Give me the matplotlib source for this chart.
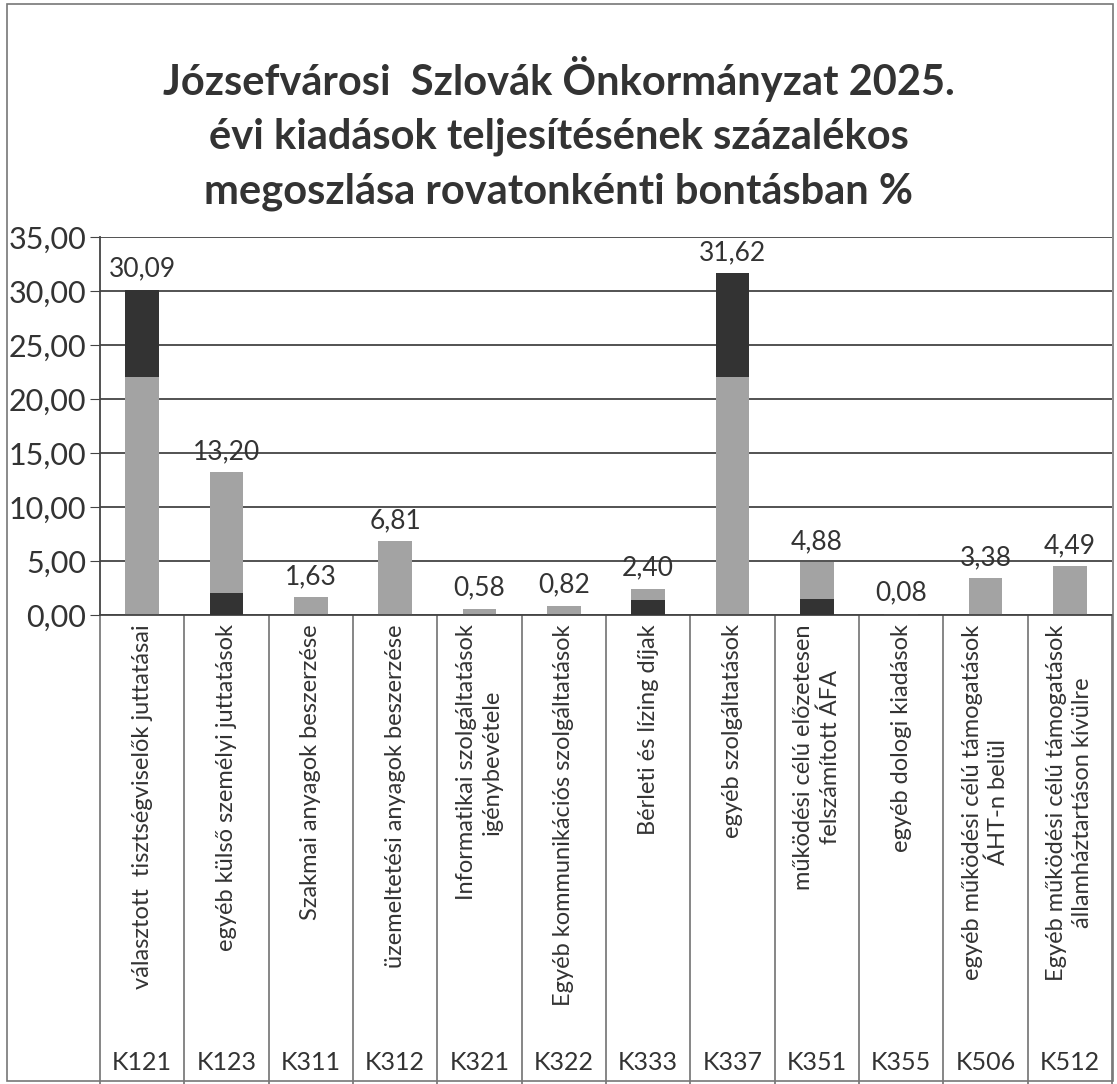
import matplotlib
matplotlib.use("Agg")
import matplotlib.pyplot as plt
from matplotlib.patches import Rectangle
from matplotlib.transforms import blended_transform_factory

codes = ["K121", "K123", "K311", "K312", "K321", "K322",
         "K333", "K337", "K351", "K355", "K506", "K512"]
labels = ["választott  tisztségviselők juttatásai",
          "egyéb külső személyi juttatások",
          "Szakmai anyagok beszerzése",
          "üzemeltetési anyagok beszerzése",
          "Informatikai szolgáltatások\nigénybevétele",
          "Egyéb kommunikációs szolgáltatások",
          "Bérleti és lízing díjak",
          "egyéb szolgáltatások",
          "működési célú előzetesen\nfelszámított ÁFA",
          "egyéb dologi kiadások",
          "egyéb működési célú támogatások\nÁHT-n belül",
          "Egyéb működési célú támogatások\nállamháztartáson kívülre"]
values = [30.09, 13.20, 1.63, 6.81, 0.58, 0.82, 2.40, 31.62, 4.88, 0.08, 3.38, 4.49]

# darker (scan-shaded) part of some bars: from / to
dark_from = [22.0, 0.0, 0.0, 0.0, 0.0, 0.0, 0.0, 22.0, 0.0, 0.0, 0.0, 0.0]
dark_to = [30.09, 2.0, 0.0, 0.0, 0.0, 0.0, 1.4, 31.62, 1.5, 0.0, 0.0, 0.0]

plt.rcParams["font.family"] = ["Lato", "DejaVu Sans"]

fig = plt.figure(figsize=(11.17, 10.84), dpi=100)
fig.patches.append(Rectangle((0.006, 0.003), 0.99, 0.993, transform=fig.transFigure,
                             fill=False, edgecolor="#777777", linewidth=1.2))

fig.text(0.5, 0.877, "Józsefvárosi  Szlovák Önkormányzat 2025.\n"
         "évi kiadások teljesítésének százalékos\n"
         "megoszlása rovatonkénti bontásban %",
         ha="center", va="center", fontsize=30, fontweight="bold",
         color="#333333", linespacing=1.52)

ax = fig.add_axes([0.0895, 0.4327, 0.906, 0.3487])
x = list(range(len(codes)))
ax.bar(x, values, width=0.4, color="#a3a3a3", zorder=2)
ax.bar(x, [t - f for f, t in zip(dark_from, dark_to)], bottom=dark_from,
       width=0.4, color="#333333", zorder=3)

for xi, v in zip(x, values):
    ax.annotate(f"{v:.2f}".replace(".", ","), (xi, v), xytext=(0, 15),
                textcoords="offset points", ha="center", va="center",
                fontsize=19, color="#333333")

ax.set_xlim(-0.5, len(codes) - 0.5)
ax.set_ylim(0, 35)
ax.set_yticks(range(0, 36, 5))
ax.set_yticklabels([f"{t:.2f}".replace(".", ",") for t in range(0, 36, 5)],
                   fontsize=22, color="#333333")
ax.yaxis.grid(True, color="#444444", linewidth=1.3, zorder=0)
ax.set_axisbelow(True)
ax.tick_params(axis="y", length=7, color="#444444", pad=3)
ax.set_xticks([])
for s in ["top", "right"]:
    ax.spines[s].set_visible(False)
ax.spines["left"].set_color("#444444")
ax.spines["bottom"].set_color("#444444")
ax.spines["left"].set_linewidth(1.3)
ax.spines["bottom"].set_linewidth(1.3)

# multi-level category area under the plot
trans = blended_transform_factory(ax.transData, ax.transAxes)
depth = -1.24
for b in [i - 0.5 for i in range(len(codes) + 1)]:
    ax.plot([b, b], [0, depth], transform=trans, color="#666666",
            linewidth=1.1, clip_on=False)
for xi, lab, code in zip(x, labels, codes):
    ax.text(xi, -0.025, lab, transform=trans, rotation=90, ha="center",
            va="top", fontsize=17, color="#333333", linespacing=1.3)
    ax.text(xi, -1.185, code, transform=trans, ha="center", va="center",
            fontsize=18, color="#333333")

fig.savefig("out.png", dpi=100)
